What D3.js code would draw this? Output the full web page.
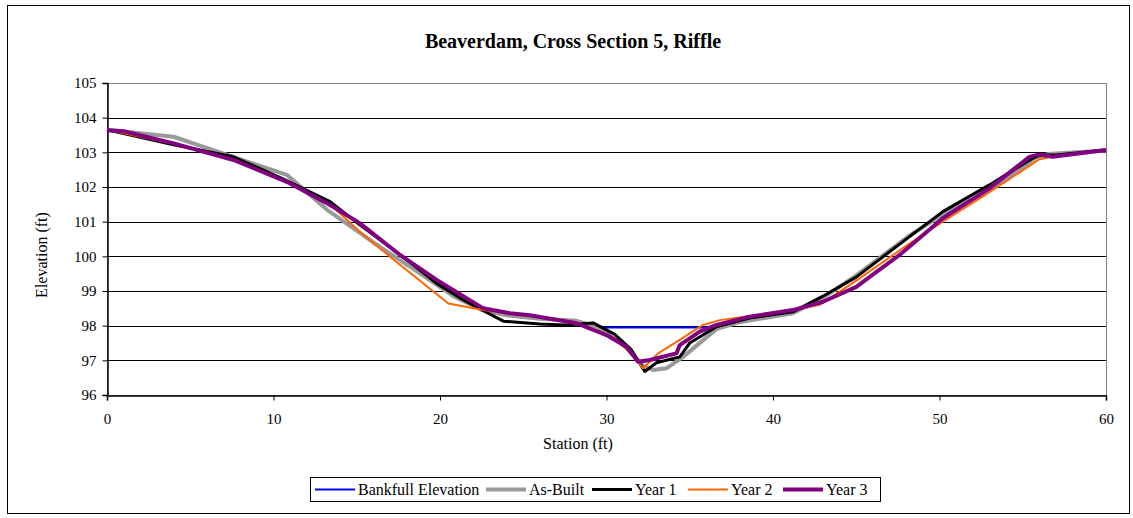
<!DOCTYPE html>
<html><head><meta charset="utf-8">
<script src="https://cdn.jsdelivr.net/npm/d3@7"></script>
<style>body{margin:0;background:#fff}text{font-family:"Liberation Serif","Times New Roman",serif}</style>
</head><body><svg id="c" width="1133" height="518"></svg>
<script>
const title = "Beaverdam, Cross Section 5, Riffle";
const xTicks = [0,10,20,30,40,50,60];
const yTicks = [96,97,98,99,100,101,102,103,104,105];
const seriesNames = ["Bankfull Elevation","As-Built","Year 1","Year 2","Year 3"];
const bankfull = [[29.5,97.95],[36.5,97.95]];
const asBuilt = [[0,103.65],[4,103.45],[10.8,102.35],[13.2,101.35],[16,100.4],[18.5,99.6],[20.8,98.85],[22.5,98.45],[24,98.3],[26,98.2],[28.2,98.14],[29.5,97.95],[31,97.45],[32.2,96.85],[32.8,96.72],[33.6,96.77],[34.6,97.1],[36.6,97.9],[38,98.1],[41.2,98.36],[43,98.8],[45,99.45],[48.2,100.6],[50,101.15],[53,101.9],[55.8,102.85],[56.5,102.95],[60,103.05]];
const year1 = [[0,103.65],[4,103.22],[7.6,102.87],[10.5,102.25],[13.4,101.58],[15.2,100.9],[17.6,100.05],[19.8,99.22],[21.4,98.74],[23.8,98.13],[26,98.05],[27.5,98.02],[29.2,98.08],[30.5,97.75],[31.5,97.3],[32.3,96.68],[33.0,96.93],[34.4,97.1],[35.0,97.5],[36.6,97.97],[38.6,98.22],[41.2,98.4],[43,98.85],[45,99.4],[48.2,100.57],[50.2,101.29],[53,102.06],[55.6,102.83],[56,102.92],[57,102.92],[60,103.07]];
const year2 = [[0,103.65],[4,103.25],[7.6,102.8],[10.8,102.15],[13.4,101.5],[15.2,100.7],[17,99.99],[20.5,98.64],[22.6,98.45],[25,98.3],[28,98.12],[29.4,97.87],[30.5,97.6],[31.4,97.25],[32.2,96.77],[33.1,97.2],[34.4,97.59],[35,97.78],[35.8,98.02],[36.8,98.16],[41.2,98.45],[42.8,98.6],[45,99.3],[48.2,100.37],[50.2,101.0],[53,101.85],[56,102.8],[57,102.9],[60,103.05]];
const year3 = [[0,103.64],[1,103.61],[4,103.26],[7.6,102.78],[10.8,102.15],[13.4,101.48],[15.2,100.95],[17.6,100.04],[19.8,99.32],[22.6,98.5],[24.2,98.36],[25.4,98.3],[28.2,98.07],[30,97.73],[31.2,97.39],[31.9,96.96],[32.6,97.01],[34.2,97.2],[34.4,97.44],[35.6,97.83],[36.6,98.02],[38.6,98.26],[41.2,98.45],[43,98.69],[45,99.12],[47.6,100.04],[50.2,101.1],[53,101.96],[55.4,102.87],[56,102.94],[56.8,102.87],[60,103.07]];

const svg = d3.select("#c");
const L=107, R=1106, T=83, B=395;
const x = d3.scaleLinear().domain([0,60]).range([L,R]);
const y = d3.scaleLinear().domain([96,105]).range([B,T]);

// outer frame
svg.append("rect").attr("x",7.5).attr("y",5.5).attr("width",1122).attr("height",508)
  .attr("fill","#fff").attr("stroke","#000").attr("stroke-width",1);

svg.append("text").attr("x",573).attr("y",48).attr("text-anchor","middle")
  .attr("font-size",20).attr("font-weight","bold").text(title);

// gridlines
svg.append("g").selectAll("line").data(yTicks.filter(d=>d>96)).join("line")
  .attr("x1",L).attr("x2",R).attr("y1",d=>Math.round(y(d))+0.5).attr("y2",d=>Math.round(y(d))+0.5)
  .attr("stroke","#000").attr("stroke-width",1);
// plot border
svg.append("rect").attr("x",L+0.5).attr("y",T+0.5).attr("width",R-L).attr("height",B-T)
  .attr("fill","none").attr("stroke","#808080").attr("stroke-width",1);

const yAxis = svg.append("g").attr("transform",`translate(${L+0.5},0)`)
  .call(d3.axisLeft(y).tickValues(yTicks).tickSize(5).tickPadding(6).tickFormat(d3.format("d")));
const xAxis = svg.append("g").attr("transform",`translate(0,${B+0.5})`)
  .call(d3.axisBottom(x).tickValues(xTicks).tickSize(5).tickPadding(13).tickFormat(d3.format("d")));
[yAxis,xAxis].forEach(a=>{
  a.select(".domain").attr("stroke","#000").attr("stroke-width",1.5);
  a.selectAll("line").attr("stroke","#000");
  a.selectAll("text").attr("font-size",15).attr("font-family","Liberation Serif").attr("fill","#000");
});

svg.append("text").attr("transform","translate(47,255) rotate(-90)").attr("text-anchor","middle")
  .attr("font-size",16).text("Elevation (ft)");
svg.append("text").attr("x",578).attr("y",449).attr("text-anchor","middle")
  .attr("font-size",16).text("Station (ft)");

const line = d3.line().x(d=>x(d[0])).y(d=>y(d[1]));
const styles = [
  {data:bankfull,color:"#0000ff",w:2},
  {data:asBuilt,color:"#999999",w:4},
  {data:year1,color:"#000000",w:3},
  {data:year2,color:"#ff6600",w:2},
  {data:year3,color:"#800080",w:4}
];
styles.forEach(s=>{
  svg.append("path").datum(s.data).attr("d",line).attr("fill","none")
    .attr("stroke",s.color).attr("stroke-width",s.w).attr("stroke-linejoin","round");
});

// legend
const lg = svg.append("g");
lg.append("rect").attr("x",310.5).attr("y",477.5).attr("width",570).attr("height",24)
  .attr("fill","#fff").attr("stroke","#000");
const lx = [315,486,592,688,783];
seriesNames.forEach((n,i)=>{
  lg.append("line").attr("x1",lx[i]).attr("x2",lx[i]+40).attr("y1",489.5).attr("y2",489.5)
    .attr("stroke",styles[i].color).attr("stroke-width",styles[i].w);
  lg.append("text").attr("x",lx[i]+43).attr("y",495).attr("font-size",16).text(n);
});
</script></body></html>
